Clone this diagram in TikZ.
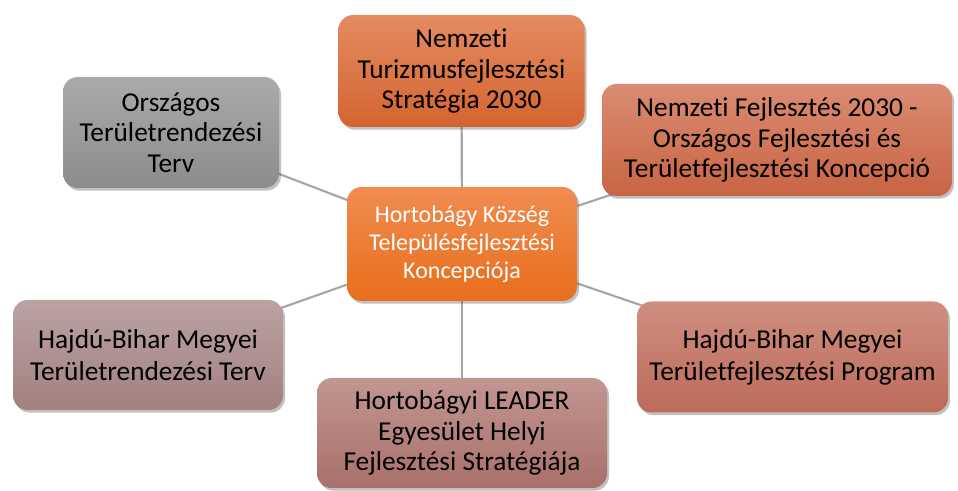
\documentclass[tikz,border=0pt]{standalone}
\usepackage{fontspec}
\setmainfont{Carlito}[Ligatures=NoCommon]
\usetikzlibrary{shadows,backgrounds}
\definecolor{lnk}{HTML}{A6A6A6}
\tikzset{
  box/.style={rounded corners=11pt, align=center, inner sep=2pt,
    font=\fontsize{20.5}{23}\selectfont, text=black,
    drop shadow={shadow xshift=1.5pt, shadow yshift=-2pt, opacity=0.35, fill=black!70}},
  link/.style={draw=lnk, line width=1.6pt}
}
\begin{document}
\begin{tikzpicture}[x=0.75pt,y=-0.75pt]
\useasboundingbox (0,0) rectangle (958,491);
\node[box, minimum width=230*0.75pt, minimum height=114*0.75pt,
  top color={rgb,255:red,240;green,140;blue,80}, bottom color={rgb,255:red,232;green,110;blue,28},
  text=white, font=\fontsize{18}{21}\selectfont] (c) at (462,244) {Hortobágy Község\\Településfejlesztési\\Koncepciója};
\node[box, minimum width=246*0.75pt, minimum height=112*0.75pt,
  top color={rgb,255:red,228;green,139;blue,97}, bottom color={rgb,255:red,212;green,100;blue,48}] (t) at (461.5,71) {Nemzeti\\Turizmusfejlesztési\\Stratégia 2030};
\node[box, minimum width=350*0.75pt, minimum height=112*0.75pt,
  top color={rgb,255:red,218;green,140;blue,115}, bottom color={rgb,255:red,200;green,100;blue,68}] (ur) at (777,140) {Nemzeti Fejlesztés 2030 -\\Országos Fejlesztési és\\Területfejlesztési Koncepció};
\node[box, minimum width=216*0.75pt, minimum height=111*0.75pt,
  top color={rgb,255:red,170;green,170;blue,170}, bottom color={rgb,255:red,140;green,140;blue,140}] (ul) at (171,132.5) {Országos\\Területrendezési\\Terv};
\node[box, minimum width=270*0.75pt, minimum height=110*0.75pt,
  top color={rgb,255:red,186;green,163;blue,162}, bottom color={rgb,255:red,162;green,128;blue,127},
  font=\fontsize{20.5}{24}\selectfont] (ll) at (148,355) {Hajdú-Bihar Megyei\\Területrendezési Terv};
\node[box, minimum width=290*0.75pt, minimum height=110*0.75pt,
  top color={rgb,255:red,194;green,150;blue,145}, bottom color={rgb,255:red,168;green,112;blue,106}] (b) at (462,433) {Hortobágyi LEADER\\Egyesület Helyi\\Fejlesztési Stratégiája};
\node[box, minimum width=311*0.75pt, minimum height=111*0.75pt,
  top color={rgb,255:red,208;green,143;blue,129}, bottom color={rgb,255:red,188;green,106;blue,88},
  font=\fontsize{20.5}{24}\selectfont] (lr) at (792.5,357) {Hajdú-Bihar Megyei\\Területfejlesztési Program};
\begin{scope}[on background layer]
  \foreach \n in {t,ur,ul,ll,b,lr}
    \draw[link] (c.center) -- (\n.center);
\end{scope}
\end{tikzpicture}
\end{document}
